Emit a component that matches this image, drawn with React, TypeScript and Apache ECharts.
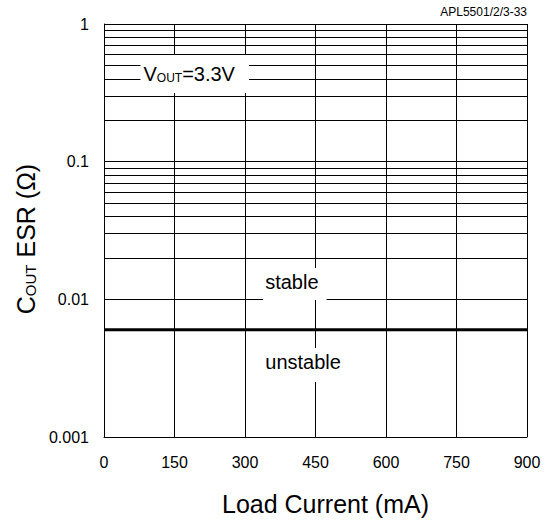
import React, { useEffect, useRef } from 'react';
import * as echarts from 'echarts';

const FONT = "'Liberation Sans', Arial, Helvetica, sans-serif";

const xTickLabels = ['0', '150', '300', '450', '600', '750', '900'];
const yTickLabels = ['0.001', '0.01', '0.1', '1'];

const boundaryCurrent = [0, 900];
const boundaryESR = [0.006, 0.006];

const minorGridESR = [
  0.002, 0.003, 0.004, 0.005, 0.006, 0.007, 0.008, 0.009,
  0.02, 0.03, 0.04, 0.05, 0.06, 0.07, 0.08, 0.09,
  0.2, 0.3, 0.4, 0.5, 0.6, 0.7, 0.8, 0.9,
];

const noteTexts = ['{v|V}{s|OUT}{v|=3.3V}', '{v|stable}', '{v|unstable}'];
const noteCurrent = [193, 406, 431];
const noteESR = [0.434, 0.0129, 0.00334];
const notePadding = [
  [9, 14, 9, 3],
  [4, 8, 8, 2],
  [4, 9, 10, 2],
];

export default function App() {
  const ref = useRef<HTMLDivElement>(null);

  useEffect(() => {
    document.body.style.margin = '0';
    if (!ref.current) return;
    const chart = echarts.init(ref.current, undefined, { renderer: 'svg' });

    const black = '#000';
    const richText = {
      v: { fontSize: 20, lineHeight: 20, color: black, opacity: 1, fontFamily: FONT, verticalAlign: 'bottom' },
      s: { fontSize: 12, lineHeight: 20, color: black, opacity: 1, fontFamily: FONT, verticalAlign: 'bottom' },
    };

    const option: any = {
      animation: false,
      backgroundColor: '#fff',
      textStyle: { fontFamily: FONT, color: black },
      title: {
        text: 'APL5501/2/3-33',
        right: 20,
        top: 6,
        padding: 0,
        textStyle: { fontSize: 12, fontWeight: 'normal', color: black, fontFamily: FONT },
      },
      grid: { left: 104, top: 24, right: 20, bottom: 85, containLabel: false },
      xAxis: {
        type: 'value',
        min: 0,
        max: 900,
        interval: 150,
        name: 'Load Current (mA)',
        nameLocation: 'middle',
        nameGap: 54,
        nameTextStyle: { fontSize: 25, color: black, fontFamily: FONT, padding: [0, 0, 0, 20] },
        axisLine: { show: true, lineStyle: { color: black, width: 1 } },
        axisTick: { show: false },
        axisLabel: {
          fontSize: 16,
          color: black,
          margin: 17,
          fontFamily: FONT,
          formatter: (v: number) => xTickLabels.find((l) => Number(l) === v) ?? '',
        },
        splitLine: { show: true, lineStyle: { color: black, width: 1 } },
      },
      yAxis: {
        type: 'log',
        logBase: 10,
        min: 0.001,
        max: 1,
        name: '{m|C}{s|OUT}{m| ESR (Ω)}',
        nameLocation: 'middle',
        nameGap: 62,
        nameTextStyle: {
          fontSize: 25,
          color: black,
          fontFamily: FONT,
          padding: [0, 17, 0, 0],
          rich: {
            m: { fontSize: 25, lineHeight: 26, color: black, fontFamily: FONT, verticalAlign: 'bottom' },
            s: { fontSize: 15, lineHeight: 26, color: black, fontFamily: FONT, verticalAlign: 'bottom' },
          },
        },
        axisLine: { show: true, lineStyle: { color: black, width: 1 } },
        axisTick: { show: false },
        minorTick: { show: false },
        minorSplitLine: { show: false },
        axisLabel: {
          fontSize: 16,
          color: black,
          margin: 15,
          fontFamily: FONT,
          formatter: (v: number) =>
            yTickLabels.find((l) => Math.abs(Math.log10(Number(l)) - Math.log10(v)) < 1e-6) ?? '',
        },
        splitLine: { show: true, lineStyle: { color: black, width: 1 } },
      },
      series: [
        {
          type: 'line',
          name: 'minor grid',
          data: [],
          z: 1,
          silent: true,
          markLine: {
            silent: true,
            symbol: ['none', 'none'],
            label: { show: false },
            lineStyle: { color: black, width: 1, type: 'solid' },
            emphasis: { disabled: true },
            data: minorGridESR.map((v) => ({ yAxis: v })),
          },
        },
        {
          type: 'line',
          name: 'stability boundary',
          data: boundaryCurrent.map((x, i) => [x, boundaryESR[i]]),
          symbol: 'none',
          z: 3,
          silent: true,
          lineStyle: { color: black, width: 3 },
        },
        {
          type: 'scatter',
          name: 'notes',
          z: 5,
          silent: true,
          symbolSize: 1,
          itemStyle: { color: '#fff', opacity: 1 },
          emphasis: { disabled: true },
          data: noteTexts.map((t, i) => ({
            value: [noteCurrent[i], noteESR[i]],
            label: {
              show: true,
              position: 'inside',
              formatter: t,
              color: black,
              opacity: 1,
              textBorderWidth: 0,
              backgroundColor: '#fff',
              padding: notePadding[i],
              rich: richText,
            },
          })),
        },
      ],
    };

    chart.setOption(option);
    return () => chart.dispose();
  }, []);

  return <div ref={ref} style={{ position: 'absolute', left: 0, top: 0, width: 547, height: 522 }} />;
}
